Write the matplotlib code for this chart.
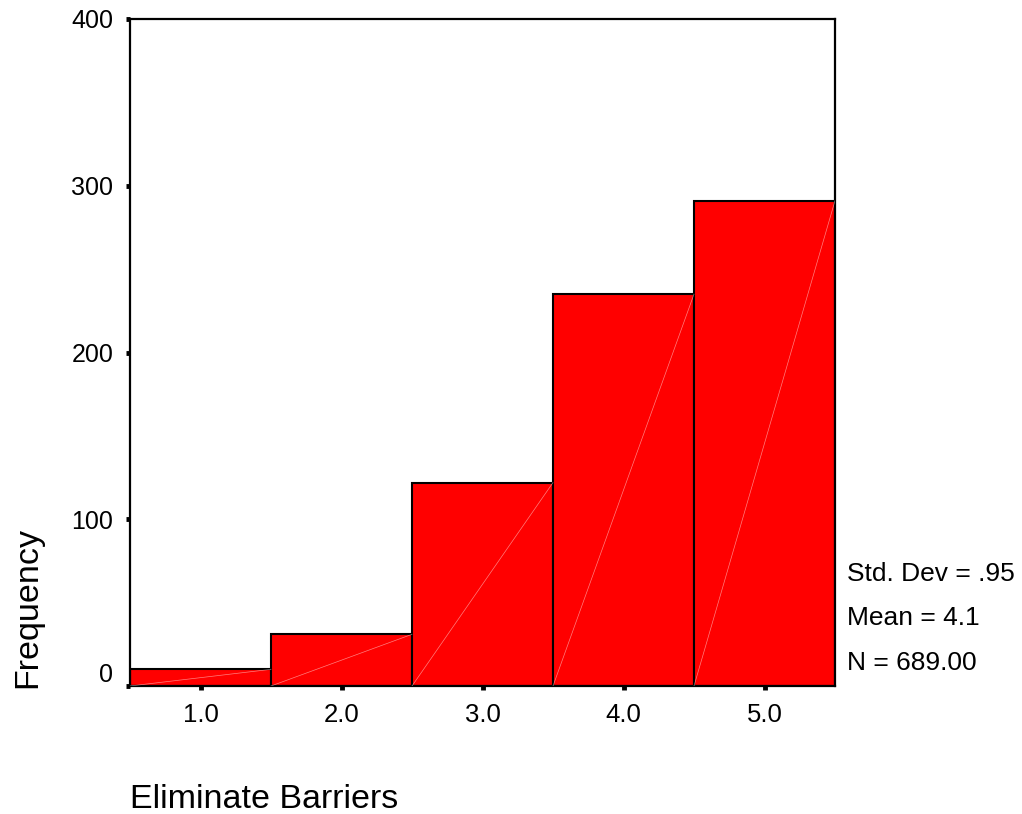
import matplotlib.pyplot as plt
import matplotlib.transforms as mtransforms

plt.rcParams['font.family'] = ['Liberation Sans', 'DejaVu Sans']

# histogram of "Eliminate Barriers"
bin_centers = [1.0, 2.0, 3.0, 4.0, 5.0]
counts = [10, 31, 122, 235, 291]
tick_labels = ['1.0', '2.0', '3.0', '4.0', '5.0']
y_ticks = [0, 100, 200, 300, 400]
stats_lines = ['Std. Dev = .95', 'Mean = 4.1', 'N = 689.00']

fig = plt.figure(figsize=(10.22, 8.14), dpi=100)
ax = fig.add_axes([130 / 1022, 1 - 686 / 814, 705 / 1022, 667 / 814])

bars = ax.bar(bin_centers, counts, width=1.0, color='#ff0000',
              edgecolor='black', linewidth=1.5, zorder=2)

# faint diagonal seams like the original render
for b in bars:
    x0 = b.get_x()
    ax.plot([x0, x0 + b.get_width()], [0, b.get_height()],
            color='white', lw=0.5, alpha=0.5, zorder=3)

ax.set_xlim(0.5, 5.5)
ax.set_ylim(0, 400)
ax.set_xticks(bin_centers)
ax.set_xticklabels(tick_labels)
ax.set_yticks(y_ticks)
ax.set_yticklabels([str(v) for v in y_ticks])

for s in ax.spines.values():
    s.set_linewidth(1.6)

ax.tick_params(axis='x', direction='out', length=3, width=3.5,
               pad=9.5, labelsize=18.5)
ax.tick_params(axis='y', direction='out', length=3, width=3.5,
               pad=9, labelsize=18)

# lift the zero label like the original
lab0 = ax.get_yticklabels()[0]
lab0.set_transform(lab0.get_transform() +
                   mtransforms.ScaledTranslation(0, 14 / 100, fig.dpi_scale_trans))

fig.text(28 / 1022, 1 - 608 / 814, 'Frequency', rotation=90,
         ha='center', va='center', fontsize=24.5)
fig.text(130 / 1022, 1 - 800 / 814, 'Eliminate Barriers',
         ha='left', va='center', fontsize=24.5)

for txt, yp in zip(stats_lines, [574, 618, 663]):
    fig.text(847 / 1022, 1 - yp / 814, txt, ha='left', va='center', fontsize=19)

fig.savefig('out.png', dpi=100)
